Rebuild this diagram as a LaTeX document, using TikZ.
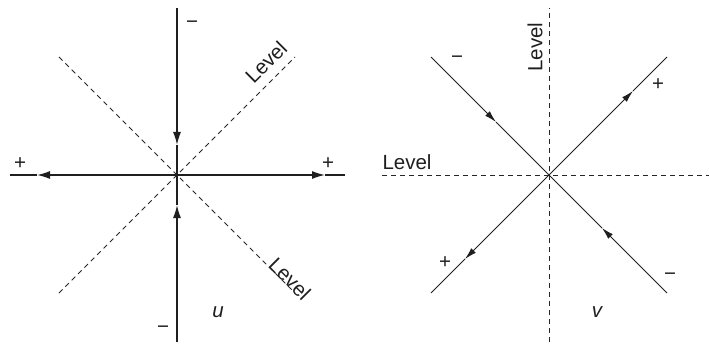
\documentclass[tikz,border=0pt]{standalone}
\usepackage{fontspec}
\setmainfont{Liberation Sans}
\usetikzlibrary{arrows.meta}
\begin{document}
\begin{tikzpicture}[x=1pt,y=1pt,
  thick line/.style={line width=1.4pt,draw=black!88},
  thin line/.style={line width=0.9pt,draw=black!88},
  level line/.style={line width=0.8pt,draw=black!85,dash pattern=on 5pt off 4pt},
  tipL/.style={-{Latex[length=13pt,width=8pt]}},
  tipS/.style={-{Latex[length=12pt,width=6.5pt]}},
  lbl/.style={font=\fontsize{20.5}{23}\selectfont,inner sep=0pt,text=black!88}]
\useasboundingbox (0,0) rectangle (709,343);
% ---------- left panel ----------
\coordinate (cu) at (177,168);
\coordinate (uT) at (177,335);
\coordinate (uB) at (177,1);
\coordinate (uL) at (10,168);
\coordinate (uR) at (345,168);
\coordinate (uTa) at (177,198);
\coordinate (uBa) at (177,138);
\coordinate (uLa) at (37,168);
\coordinate (uRa) at (325,168);
\coordinate (uNE) at (295,286);
\coordinate (uSW) at (59,50);
\coordinate (uNW) at (59,286);
\coordinate (uSE) at (295,50);
\draw[level line] (uSW) -- (uNE);
\draw[level line] (uNW) -- (uSE);
\draw[thick line,tipL] (uT) -- (uTa);
\draw[thick line] (uTa) -- (cu);
\draw[thick line,tipL] (uB) -- (uBa);
\draw[thick line] (uBa) -- (cu);
\draw[thick line,tipL] (cu) -- (uLa);
\draw[thick line] (uLa) -- (uL);
\draw[thick line,tipL] (cu) -- (uRa);
\draw[thick line] (uRa) -- (uR);
\node[lbl] (um1) at (192,318) {\char"2212};
\node[lbl] (up1) at (20,179) {+};
\node[lbl] (up2) at (328,179) {+};
\node[lbl] (um2) at (163,13) {\char"2212};
\node[lbl] (ulab) at (218,31) {\itshape u};
\node[lbl,rotate=45] (ulev1) at (266,281) {Level};
\node[lbl,rotate=-45] (ulev2) at (290,64) {Level};
% ---------- right panel ----------
\coordinate (cv) at (549,168);
\coordinate (vT) at (549,335);
\coordinate (vB) at (549,1);
\coordinate (vL) at (382,168);
\coordinate (vR) at (709,168);
\coordinate (vNW) at (431,286);
\coordinate (vSE) at (667,50);
\coordinate (vNE) at (667,286);
\coordinate (vSW) at (431,50);
\coordinate (vNWa) at (496,221);
\coordinate (vSEa) at (602,115);
\coordinate (vNEa) at (633,252);
\coordinate (vSWa) at (465,84);
\draw[level line] (vB) -- (vT);
\draw[level line] (vL) -- (vR);
\draw[thin line,tipS] (vNW) -- (vNWa);
\draw[thin line] (vNWa) -- (cv);
\draw[thin line,tipS] (vSE) -- (vSEa);
\draw[thin line] (vSEa) -- (cv);
\draw[thin line,tipS] (cv) -- (vNEa);
\draw[thin line] (vNEa) -- (vNE);
\draw[thin line,tipS] (cv) -- (vSWa);
\draw[thin line] (vSWa) -- (vSW);
\node[lbl] (vm1) at (457,283) {\char"2212};
\node[lbl] (vp1) at (658,258) {+};
\node[lbl] (vp2) at (445,80) {+};
\node[lbl] (vm2) at (670,66) {\char"2212};
\node[lbl] (vlab) at (597,31) {\itshape v};
\node[lbl,rotate=90] (vlev1) at (535,296) {Level};
\node[lbl] (vlev2) at (407,181) {Level};
\end{tikzpicture}
\end{document}
